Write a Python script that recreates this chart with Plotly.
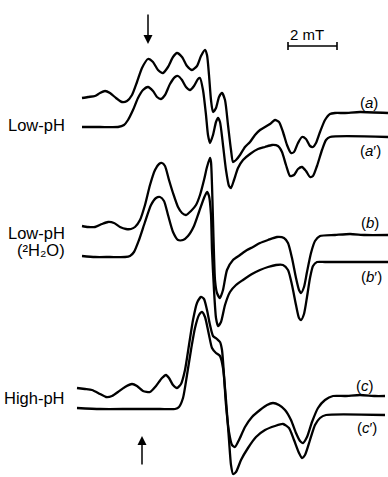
import plotly.graph_objects as go

# ---- EPR spectra (field position, signal position) ----
field_a = [82, 88, 95, 100, 105, 110, 116, 122, 127, 132, 137, 142, 148, 153, 158, 163, 168, 173, 177, 182,
           187, 192, 197, 201, 205, 207, 209, 211, 213, 216, 219, 222, 225, 228, 231, 233, 236, 240, 245, 250,
           255, 260, 265, 270, 275, 279, 283, 287, 291, 294, 298, 302, 306, 310, 313, 316, 320, 325, 330, 335,
           345, 360, 388]
signal_a = [98, 97, 96, 93, 91, 93, 98, 102, 101, 95, 82, 68, 59, 62, 70, 73, 67, 57, 53, 57,
            66, 70, 66, 56, 50, 55, 75, 100, 112, 108, 97, 93, 100, 125, 150, 162, 160, 155, 147, 142,
            135, 130, 127, 124, 120, 122, 132, 145, 153, 152, 143, 137, 139, 146, 147, 143, 132, 120, 114, 113,
            113, 112, 113]

field_a2 = [82, 100, 118, 124, 128, 133, 138, 143, 148, 153, 157, 161, 165, 170, 175, 178, 182, 186, 190, 194,
            198, 200, 203, 206, 208, 210, 213, 216, 218, 220, 223, 226, 229, 231, 234, 238, 243, 250, 258, 265,
            272, 278, 282, 286, 290, 294, 298, 302, 306, 310, 313, 317, 322, 326, 330, 388]
signal_a2 = [127, 127, 127, 125, 120, 110, 98, 90, 87, 91, 97, 99, 95, 84, 77, 76, 80, 87, 90, 86,
             79, 78, 90, 115, 135, 143, 135, 122, 118, 122, 145, 170, 186, 188, 180, 168, 160, 154, 149, 147,
             145, 146, 152, 165, 176, 175, 169, 167, 171, 177, 176, 166, 150, 140, 137, 137]

field_b = [82, 88, 95, 102, 108, 114, 120, 126, 131, 135, 140, 145, 150, 155, 159, 162, 165, 169, 173, 178,
           182, 186, 191, 196, 200, 204, 207, 210, 211, 212, 213, 214, 215, 217, 220, 223, 227, 233, 240, 247,
           253, 260, 268, 277, 284, 288, 292, 296, 299, 301, 304, 307, 311, 315, 320, 335, 350, 365, 388]
signal_b = [226, 227, 227, 224, 222, 223, 227, 229, 229, 227, 220, 205, 185, 170, 164, 163, 166, 180, 193, 207,
            213, 215, 211, 205, 195, 180, 167, 158, 162, 185, 220, 255, 280, 293, 298, 290, 270, 260, 255, 250,
            247, 243, 240, 237, 238, 243, 258, 278, 290, 293, 287, 272, 253, 241, 236, 235, 234, 235, 235]

field_b2 = [82, 95, 110, 125, 130, 134, 139, 145, 151, 156, 160, 164, 168, 173, 178, 183, 188, 194, 199, 204,
            207, 209, 211, 212, 214, 216, 218, 221, 225, 230, 236, 243, 252, 260, 268, 276, 283, 288, 292, 296,
            299, 301, 304, 307, 310, 313, 317, 325, 388]
signal_b2 = [256, 257, 257, 257, 256, 252, 240, 222, 205, 198, 197, 201, 215, 232, 240, 240, 236, 226, 212, 198,
             192, 196, 215, 250, 290, 318, 326, 322, 305, 292, 285, 280, 274, 270, 267, 265, 265, 270, 285, 305,
             318, 320, 314, 297, 278, 266, 262, 262, 262]

field_c = [77, 85, 92, 100, 106, 112, 118, 125, 132, 137, 143, 150, 156, 162, 166, 169, 173, 177, 181, 185,
           189, 193, 197, 201, 204, 207, 210, 213, 217, 220, 222, 224, 226, 229, 232, 235, 239, 245, 252, 260,
           267, 273, 279, 285, 291, 296, 300, 303, 307, 312, 318, 325, 333, 345, 360, 375, 385]
signal_c = [388, 389, 390, 394, 397, 396, 392, 387, 384, 386, 391, 392, 386, 378, 375, 378, 385, 388, 384, 370,
            345, 320, 303, 297, 299, 310, 325, 336, 339, 342, 350, 375, 405, 432, 445, 447, 440, 427, 417, 410,
            405, 403, 405, 410, 420, 433, 441, 443, 437, 422, 408, 400, 396, 396, 395, 396, 396]

field_c2 = [77, 100, 130, 160, 175, 179, 183, 187, 191, 195, 199, 202, 205, 209, 212, 216, 220, 223, 226, 229,
            231, 233, 236, 241, 248, 256, 265, 275, 283, 289, 294, 299, 302, 305, 310, 315, 320, 326, 385]
signal_c2 = [408, 409, 409, 409, 409, 407, 398, 375, 350, 328, 315, 312, 317, 335, 348, 353, 356, 368, 400, 440,
             465, 474, 472, 460, 448, 437, 430, 426, 424, 428, 440, 453, 458, 455, 440, 425, 418, 415, 415]

trace_labels = ["(<i>a</i>)", "(<i>a</i>′)", "(<i>b</i>)", "(<i>b</i>′)", "(<i>c</i>)", "(<i>c</i>′)"]
label_x = [369, 370, 370, 371, 365, 367]
label_y = [102, 150, 222, 276, 385, 427]

group_labels = ["Low-pH", "Low-pH", "(²H₂O)", "High-pH"]
group_y = [125, 233, 250, 398]

scale_text = "2 mT"
scale_start = 288
scale_end = 337

fig = go.Figure()
line_style = dict(color="black", width=2.3, shape="spline", smoothing=0.6)
for fx, fy in [(field_a, signal_a), (field_a2, signal_a2), (field_b, signal_b),
               (field_b2, signal_b2), (field_c, signal_c), (field_c2, signal_c2)]:
    fig.add_trace(go.Scatter(x=fx, y=fy, mode="lines", line=line_style,
                             hoverinfo="skip", showlegend=False))

font_small = dict(family="Liberation Sans, Arial, sans-serif", size=15, color="black")
font_big = dict(family="Liberation Sans, Arial, sans-serif", size=16.5, color="black")

for t, x, y in zip(trace_labels, label_x, label_y):
    fig.add_annotation(x=x, y=y, text=t, showarrow=False, font=font_small,
                       xanchor="center", yanchor="middle")

for t, y in zip(group_labels, group_y):
    fig.add_annotation(x=67, y=y, text=t, showarrow=False, font=font_big,
                       xanchor="right", yanchor="middle")

# scale bar
fig.add_shape(type="line", x0=scale_start, x1=scale_end, y0=46, y1=46,
              line=dict(color="black", width=1.6))
for xe in (scale_start, scale_end):
    fig.add_shape(type="line", x0=xe, x1=xe, y0=42, y1=50,
                  line=dict(color="black", width=1.6))
fig.add_annotation(x=307, y=34, text=scale_text, showarrow=False,
                   font=font_small, xanchor="center", yanchor="middle")

# arrows
fig.add_annotation(x=148, y=44, ax=148, ay=13, axref="x", ayref="y", xref="x", yref="y",
                   text="", showarrow=True, arrowhead=2, arrowsize=1.2, arrowwidth=1.5,
                   arrowcolor="black")
fig.add_annotation(x=142, y=436, ax=142, ay=466, axref="x", ayref="y", xref="x", yref="y",
                   text="", showarrow=True, arrowhead=2, arrowsize=1.2, arrowwidth=1.5,
                   arrowcolor="black")

fig.update_xaxes(range=[0, 388], visible=False, fixedrange=True)
fig.update_yaxes(range=[477, 0], visible=False, fixedrange=True)
fig.update_layout(width=388, height=477, margin=dict(l=0, r=0, t=0, b=0),
                  plot_bgcolor="white", paper_bgcolor="white")

fig.write_html("out.html", config={"displayModeBar": False},
               post_script="document.body.style.margin='0';document.body.style.overflow='hidden';")
